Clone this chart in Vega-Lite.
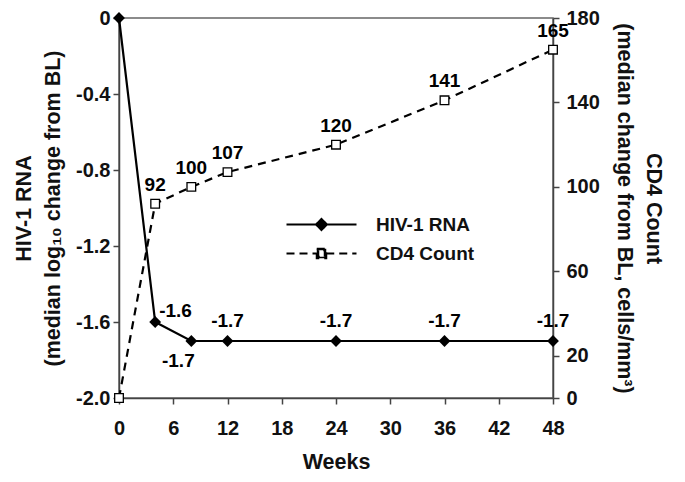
{
  "$schema": "https://vega.github.io/schema/vega-lite/v6.json",
  "width": 434,
  "height": 380,
  "autosize": {"type": "none"},
  "padding": {"left": 119, "top": 18, "right": 132, "bottom": 84},
  "background": "white",
  "config": {
    "view": {"stroke": "#666", "strokeWidth": 1.5},
    "font": "Liberation Sans",
    "axis": {
      "grid": false,
      "domainColor": "#444",
      "tickColor": "#444",
      "domainWidth": 1.5,
      "tickWidth": 1.5,
      "tickSize": 6,
      "labelFlush": false,
      "labelFont": "Liberation Sans",
      "labelFontWeight": "bold",
      "labelFontSize": 20,
      "labelColor": "#111",
      "titleFont": "Liberation Sans",
      "titleFontWeight": "bold",
      "titleFontSize": 21.5,
      "titleColor": "#111",
      "titleLineHeight": 29
    },
    "legend": {"symbolStrokeWidth": 2}
  },
  "datasets": {
    "rna": [
      {"week": 0, "value": 0},
      {"week": 4, "value": -1.6},
      {"week": 8, "value": -1.7},
      {"week": 12, "value": -1.7},
      {"week": 24, "value": -1.7},
      {"week": 36, "value": -1.7},
      {"week": 48, "value": -1.7}
    ],
    "cd4": [
      {"week": 0, "count": 0},
      {"week": 4, "count": 92},
      {"week": 8, "count": 100},
      {"week": 12, "count": 107},
      {"week": 24, "count": 120},
      {"week": 36, "count": 141},
      {"week": 48, "count": 165}
    ],
    "legend": [
      {"series": "HIV-1 RNA"},
      {"series": "CD4 Count"}
    ]
  },
  "layer": [
    {
      "data": {"name": "rna"},
      "encoding": {
        "x": {
          "field": "week", "type": "quantitative",
          "scale": {"domain": [0, 48], "nice": false},
          "axis": {"values": [0, 6, 12, 18, 24, 30, 36, 42, 48], "title": "Weeks", "labelPadding": 14, "titlePadding": 13}
        },
        "y": {
          "field": "value", "type": "quantitative",
          "scale": {"domain": [-2, 0], "nice": false},
          "axis": {
            "orient": "left",
            "values": [0, -0.4, -0.8, -1.2, -1.6, -2],
            "labelExpr": "datum.value === 0 ? '0' : replace(format(datum.value, '.1f'), '\u2212', '-')",
            "labelPadding": 3,
            "title": ["HIV-1 RNA", "(median log₁₀ change from BL)"],
            "titlePadding": 11
          }
        }
      },
      "layer": [
        {"mark": {"type": "line", "color": "black", "strokeWidth": 2.2}},
        {"mark": {"type": "point", "shape": "diamond", "filled": true, "color": "black", "size": 140, "opacity": 1}},
        {
          "transform": [{"filter": "datum.week === 4"}],
          "mark": {"type": "text", "align": "left", "baseline": "middle", "dx": 4, "dy": -11, "fontSize": 19, "fontWeight": "bold", "font": "Liberation Sans", "color": "black"},
          "encoding": {"text": {"field": "value", "type": "nominal"}}
        },
        {
          "transform": [{"filter": "datum.week === 8"}],
          "mark": {"type": "text", "align": "center", "baseline": "middle", "dx": -13, "dy": 20, "fontSize": 19, "fontWeight": "bold", "font": "Liberation Sans", "color": "black"},
          "encoding": {"text": {"field": "value", "type": "nominal"}}
        },
        {
          "transform": [{"filter": "datum.week >= 12"}],
          "mark": {"type": "text", "align": "center", "baseline": "middle", "dy": -20, "fontSize": 19, "fontWeight": "bold", "font": "Liberation Sans", "color": "black"},
          "encoding": {"text": {"field": "value", "type": "nominal"}}
        }
      ]
    },
    {
      "data": {"name": "cd4"},
      "encoding": {
        "x": {
          "field": "week", "type": "quantitative",
          "scale": {"domain": [0, 48], "nice": false},
          "axis": {"values": [0, 6, 12, 18, 24, 30, 36, 42, 48], "title": "Weeks", "labelPadding": 14, "titlePadding": 13}
        },
        "y": {
          "field": "count", "type": "quantitative",
          "scale": {"domain": [0, 180], "nice": false},
          "axis": {
            "orient": "right",
            "values": [0, 20, 60, 100, 140, 180],
            "labelPadding": 7,
            "title": ["CD4 Count", "(median change from BL, cells/mm³)"],
            "titlePadding": 13
          }
        }
      },
      "layer": [
        {"mark": {"type": "line", "color": "black", "strokeWidth": 2.2, "strokeDash": [8, 6]}},
        {"mark": {"type": "point", "shape": "square", "filled": true, "fill": "white", "stroke": "black", "strokeWidth": 1.3, "size": 75, "opacity": 1}},
        {
          "transform": [{"filter": "datum.week > 0"}],
          "mark": {"type": "text", "align": "center", "baseline": "middle", "dy": -19, "fontSize": 19, "fontWeight": "bold", "font": "Liberation Sans", "color": "black"},
          "encoding": {"text": {"field": "count", "type": "quantitative"}}
        }
      ]
    },
    {
      "data": {"name": "legend"},
      "mark": {"type": "point", "opacity": 0, "strokeWidth": 2},
      "encoding": {
        "shape": {
          "field": "series", "type": "nominal",
          "scale": {"domain": ["HIV-1 RNA", "CD4 Count"], "range": ["M-7,0H7M0,-1.1L1.1,0L0,1.1L-1.1,0Z", "M-7,0H-0.95M0.95,0H7M-0.95,-0.95H0.95V0.95H-0.95ZM-0.65,-0.65V0.65H0.65V-0.65Z"]},
          "legend": {"title": null, "orient": "none", "legendX": 193, "legendY": 197, "padding": 0, "symbolSize": 100, "symbolOpacity": 1, "symbolStrokeWidth": 2, "labelOffset": 45, "rowPadding": 9, "labelFont": "Liberation Sans", "labelFontSize": 19, "labelFontWeight": "bold", "labelColor": "#111"}
        },
        "fill": {
          "field": "series", "type": "nominal",
          "scale": {"domain": ["HIV-1 RNA", "CD4 Count"], "range": ["black", "black"]},
          "legend": {"title": null, "orient": "none", "legendX": 193, "legendY": 197, "padding": 0, "symbolSize": 100, "symbolOpacity": 1, "symbolStrokeWidth": 2, "labelOffset": 45, "rowPadding": 9, "labelFont": "Liberation Sans", "labelFontSize": 19, "labelFontWeight": "bold", "labelColor": "#111"}
        },
        "stroke": {
          "field": "series", "type": "nominal",
          "scale": {"domain": ["HIV-1 RNA", "CD4 Count"], "range": ["black", "black"]},
          "legend": {"title": null, "orient": "none", "legendX": 193, "legendY": 197, "padding": 0, "symbolSize": 100, "symbolOpacity": 1, "symbolStrokeWidth": 2, "labelOffset": 45, "rowPadding": 9, "labelFont": "Liberation Sans", "labelFontSize": 19, "labelFontWeight": "bold", "labelColor": "#111"}
        },
        "strokeDash": {
          "field": "series", "type": "nominal",
          "scale": {"domain": ["HIV-1 RNA", "CD4 Count"], "range": [[1, 0], [8, 5]]},
          "legend": {"title": null, "orient": "none", "legendX": 193, "legendY": 197, "padding": 0, "symbolSize": 100, "symbolOpacity": 1, "symbolStrokeWidth": 2, "labelOffset": 45, "rowPadding": 9, "labelFont": "Liberation Sans", "labelFontSize": 19, "labelFontWeight": "bold", "labelColor": "#111"}
        }
      }
    }
  ],
  "resolve": {"scale": {"y": "independent"}}
}
